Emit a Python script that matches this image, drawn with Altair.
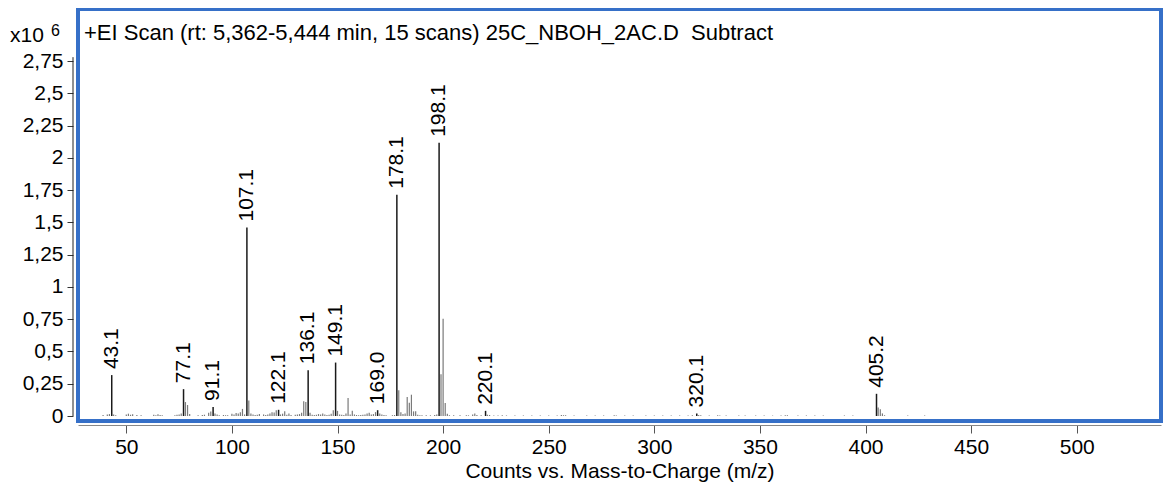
import altair as alt
import pandas as pd

FONT = "Liberation Sans"

# Labelled peaks (m/z, counts x10^6)
major_mz = [43.1, 77.1, 91.1, 107.1, 122.1, 136.1, 149.1, 169.0, 178.1, 198.1, 220.1, 320.1, 405.2]
major_int = [0.317, 0.208, 0.070, 1.46, 0.048, 0.355, 0.414, 0.045, 1.714, 2.116, 0.040, 0.020, 0.172]
major_labels = ["43.1", "77.1", "91.1", "107.1", "122.1", "136.1", "149.1", "169.0", "178.1", "198.1", "220.1", "320.1", "405.2"]

# Unlabelled peaks (m/z, counts x10^6)
minor_mz = [39, 41, 42, 44, 45, 50, 51, 52, 53, 55, 57, 63, 64, 65, 66, 67, 73, 74, 75, 76, 78, 79, 80,
            84, 86, 87, 89, 90, 92, 93, 94, 96, 97, 98, 100, 101, 102, 103, 104, 105, 106, 108, 109, 110, 111,
            112, 113, 115, 116, 117, 118, 119, 120, 121, 123, 124, 125, 126, 127, 128,
            130, 131, 132, 133, 134, 135, 137, 138, 139,
            140, 141, 142, 143, 144, 145, 146, 147, 148, 150, 151, 152, 153, 154, 155, 156, 157, 158, 159,
            160, 161, 162, 163, 164, 165, 166, 167, 168, 170, 171, 172, 173,
            176, 177, 179, 180, 181, 182, 183, 184, 185, 186, 187, 188, 189, 190, 192, 194, 196, 197,
            199, 200, 201, 202, 203, 205, 208, 211, 212, 214, 215, 216, 218, 221, 222, 224, 226, 228, 230,
            234, 238, 242, 246, 250, 254, 256, 257, 258, 262, 268, 272, 276, 281, 282, 286, 290, 296, 300,
            304, 308, 312, 316, 318, 321, 322, 326, 330, 331, 334, 340, 343, 348, 352, 356, 360, 362, 363,
            368, 372, 376, 380, 390, 394, 406, 407, 408, 409, 420, 428]
minor_int = [0.008, 0.012, 0.015, 0.012, 0.006, 0.012, 0.018, 0.010, 0.014, 0.008, 0.006, 0.010, 0.006, 0.014, 0.008, 0.006, 0.006, 0.010, 0.012, 0.020, 0.108, 0.085, 0.015,
             0.005, 0.008, 0.010, 0.026, 0.035, 0.020, 0.012, 0.006, 0.008, 0.006, 0.006, 0.018, 0.012, 0.023, 0.020, 0.030, 0.055, 0.012, 0.120, 0.020, 0.012, 0.008,
             0.010, 0.015, 0.012, 0.008, 0.012, 0.020, 0.030, 0.028, 0.044, 0.012, 0.018, 0.036, 0.010, 0.020, 0.008,
             0.010, 0.012, 0.015, 0.025, 0.114, 0.108, 0.026, 0.010, 0.008,
             0.010, 0.015, 0.012, 0.020, 0.012, 0.008, 0.010, 0.018, 0.044, 0.040, 0.012, 0.010, 0.008, 0.020, 0.140, 0.012, 0.040, 0.012, 0.008,
             0.006, 0.008, 0.010, 0.012, 0.020, 0.025, 0.012, 0.015, 0.030, 0.020, 0.012, 0.008, 0.006,
             0.006, 0.008, 0.200, 0.030, 0.015, 0.020, 0.147, 0.103, 0.165, 0.036, 0.036, 0.010, 0.006, 0.005, 0.006, 0.005, 0.008, 0.012,
             0.324, 0.754, 0.100, 0.018, 0.006, 0.005, 0.005, 0.006, 0.005, 0.012, 0.020, 0.008, 0.006, 0.010, 0.008, 0.004, 0.004, 0.005, 0.004,
             0.004, 0.003, 0.003, 0.004, 0.003, 0.004, 0.008, 0.006, 0.005, 0.003, 0.003, 0.003, 0.003, 0.005, 0.004, 0.003, 0.003, 0.003, 0.004,
             0.003, 0.004, 0.003, 0.003, 0.005, 0.008, 0.005, 0.004, 0.006, 0.004, 0.003, 0.003, 0.004, 0.003, 0.003, 0.003, 0.004, 0.006, 0.005,
             0.003, 0.003, 0.003, 0.003, 0.004, 0.004, 0.065, 0.052, 0.020, 0.006, 0.003, 0.004]

x_ticks = [50, 100, 150, 200, 250, 300, 350, 400, 450, 500]
y_ticks = [0, 0.25, 0.5, 0.75, 1, 1.25, 1.5, 1.75, 2, 2.25, 2.5, 2.75]
y_axis_top = [2.78]

title_text = "+EI Scan (rt: 5,362-5,444 min, 15 scans) 25C_NBOH_2AC.D\u00a0 Subtract"
x_title = "Counts vs. Mass-to-Charge (m/z)"

major = pd.DataFrame({"mz": major_mz, "counts": major_int, "label": major_labels})
minor = pd.DataFrame({"mz": minor_mz, "counts": minor_int})
axis_top = pd.DataFrame({"counts": y_axis_top})
one = pd.DataFrame({"k": [0]})

xscale = alt.Scale(domain=[27.13, 539.9], nice=False, zero=False)
yscale = alt.Scale(domain=[-0.0387, 3.153], nice=False, zero=False)

x_axis = alt.Axis(values=x_ticks, offset=4, tickSize=8, labelPadding=3, grid=False,
                  domainColor="#888888", tickColor="#555555", labelColor="black",
                  labelFont=FONT, labelFontSize=21, titleFont=FONT, titleFontSize=21,
                  titleFontWeight="normal", titleColor="black", titlePadding=3)
y_axis = alt.Axis(values=y_ticks, offset=5, tickSize=6, labelPadding=4, grid=False, domain=False,
                  tickColor="#333333", labelColor="black", labelFont=FONT, labelFontSize=21,
                  labelExpr="replace(format(datum.value, '.2~f'), '.', ',')", title=None)

x_enc = alt.X("mz:Q", scale=xscale, axis=x_axis, title=x_title)
y_enc = alt.Y("counts:Q", scale=yscale, axis=y_axis)

minor_rules = alt.Chart(minor).mark_rule(color="#7a7a7a", strokeWidth=1.2).encode(
    x=x_enc, y=y_enc, y2=alt.datum(0))

major_rules = alt.Chart(major).mark_rule(color="#1a1a1a", strokeWidth=1.5).encode(
    x=x_enc, y=y_enc, y2=alt.datum(0))

labels = alt.Chart(major).mark_text(angle=270, align="left", baseline="middle", dx=6,
                                     font=FONT, fontSize=21, color="black").encode(
    x=x_enc, y=y_enc, text="label:N")

y_line = alt.Chart(axis_top).mark_rule(color="#222222", strokeWidth=1).encode(
    x=alt.value(-5), y=y_enc, y2=alt.datum(0))

title_mark = alt.Chart(one).mark_text(align="left", baseline="alphabetic", font=FONT,
                                      fontSize=22, color="black").encode(
    x=alt.value(6), y=alt.value(31), text=alt.value(title_text))

x10_mark = alt.Chart(one).mark_text(align="left", baseline="alphabetic", font=FONT,
                                    fontSize=21, color="black").encode(
    x=alt.value(-68), y=alt.value(33), text=alt.value("x10"))

exp_mark = alt.Chart(one).mark_text(align="left", baseline="alphabetic", font=FONT,
                                    fontSize=16, color="black").encode(
    x=alt.value(-27), y=alt.value(27), text=alt.value("6"))

chart = alt.layer(minor_rules, major_rules, labels, y_line, title_mark, x10_mark, exp_mark).properties(
    width=1083, height=412,
    padding={"left": 70, "top": 1, "right": 2, "bottom": 66},
    autosize=alt.AutoSizeParams(type="none"),
    background="white",
).configure_view(stroke="#3670c8", strokeWidth=4)

chart.save("out.html", embed_options={"renderer": "svg", "actions": False})
